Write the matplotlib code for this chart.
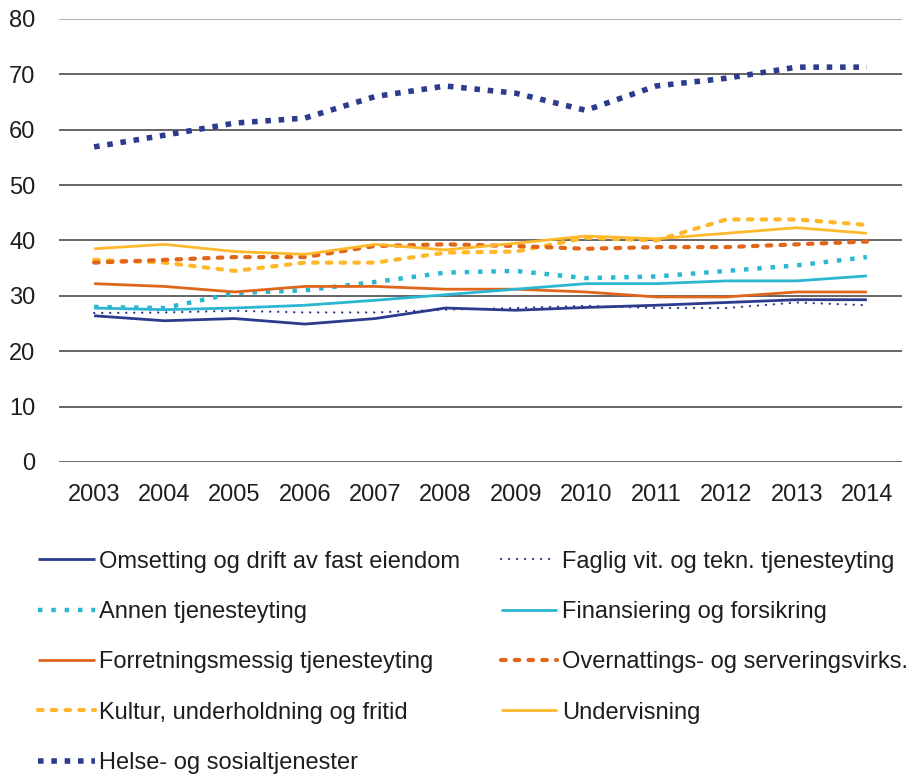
import matplotlib.pyplot as plt
import numpy as np

plt.rcParams['font.family'] = ['Liberation Sans', 'DejaVu Sans']

# Data
years = [2003, 2004, 2005, 2006, 2007, 2008, 2009, 2010, 2011, 2012, 2013, 2014]

omsetting = [26.4, 25.5, 25.9, 24.9, 25.9, 27.8, 27.4, 27.9, 28.3, 28.8, 29.3, 29.3]
faglig = [26.9, 27.0, 27.3, 27.0, 27.0, 27.5, 27.8, 28.2, 27.8, 27.8, 28.8, 28.3]
annen = [28.0, 27.8, 30.5, 31.0, 32.5, 34.2, 34.5, 33.2, 33.5, 34.5, 35.5, 37.0]
finansiering = [27.8, 27.5, 27.8, 28.3, 29.2, 30.2, 31.2, 32.2, 32.2, 32.7, 32.7, 33.6]
forretning = [32.2, 31.7, 30.7, 31.7, 31.7, 31.2, 31.2, 30.7, 29.8, 29.8, 30.7, 30.7]
overnatting = [36.0, 36.5, 37.0, 37.0, 39.0, 39.3, 39.0, 38.5, 38.8, 38.8, 39.3, 39.8]
kultur = [36.5, 36.0, 34.5, 36.0, 36.0, 37.8, 38.0, 40.5, 40.0, 43.8, 43.8, 42.8]
undervisning = [38.5, 39.3, 38.0, 37.5, 39.3, 38.3, 39.5, 40.8, 40.3, 41.3, 42.3, 41.3]
helse = [56.9, 59.0, 61.2, 62.1, 66.0, 67.9, 66.6, 63.5, 67.9, 69.3, 71.3, 71.3]

navy = '#2c3b8d'
cyan = '#2bb6d1'
orange = '#e0661c'
yellow = '#fdb92b'

fig = plt.figure(figsize=(9.13, 7.81), dpi=100)
ax = fig.add_axes([0.0646, 0.4085, 0.9234, 0.5672])

x = np.arange(len(years))

# (label, data, color, lw, dashes, capstyle)
series = [
    ('Omsetting og drift av fast eiendom', omsetting, navy, 2.0, None, 'butt'),
    ('Annen tjenesteyting', annen, cyan, 3.2, (1, 2.0), 'butt'),
    ('Forretningsmessig tjenesteyting', forretning, orange, 2.0, None, 'butt'),
    ('Kultur, underholdning og fritid', kultur, yellow, 3.0, (1.1, 2.2), 'round'),
    ('Helse- og sosialtjenester', helse, navy, 4.0, (1, 1.4), 'butt'),
    ('Faglig vit. og tekn. tjenesteyting', faglig, navy, 1.6, (0.1, 3.5), 'round'),
    ('Finansiering og forsikring', finansiering, cyan, 2.0, None, 'butt'),
    ('Overnattings- og serveringsvirks.', overnatting, orange, 3.0, (1.1, 2.2), 'round'),
    ('Undervisning', undervisning, yellow, 2.0, None, 'butt'),
]

handles = []
for label, vals, col, lw, dashes, cap in series:
    if dashes is None:
        ln, = ax.plot(x, vals, color=col, lw=lw, label=label, solid_capstyle=cap)
    else:
        ln, = ax.plot(x, vals, color=col, lw=lw, label=label, dashes=dashes,
                      dash_capstyle=cap)
    handles.append(ln)

ax.set_ylim(0, 80)
ax.set_xlim(-0.5, len(years) - 0.5)
ax.set_yticks(range(0, 81, 10))
ax.set_xticks(x)
ax.set_xticklabels([str(y) for y in years])
ax.tick_params(axis='both', length=0, labelsize=17, colors='#1e1e1e')
ax.tick_params(axis='x', pad=16)
ax.tick_params(axis='y', pad=17)
for yv in range(0, 81, 10):
    ax.axhline(yv, color='#9a9a9a' if yv == 80 else '#3a3a3a', lw=1.1, zorder=0)
for s in ax.spines.values():
    s.set_visible(False)

leg = fig.legend(handles=handles, loc='upper left', bbox_to_anchor=(0.0416, 0.295),
                 ncol=2, frameon=False, fontsize=17, handlelength=2.4,
                 handletextpad=0.2, labelspacing=1.2, columnspacing=1.7,
                 borderpad=0, borderaxespad=0, labelcolor='#1e1e1e')

fig.savefig('out.png', dpi=100)
